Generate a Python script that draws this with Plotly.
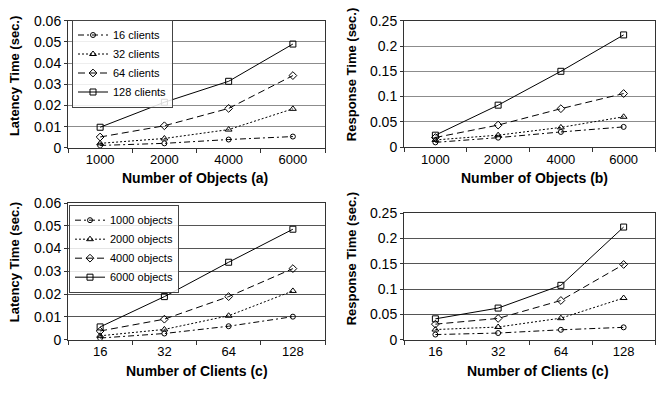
import plotly.graph_objects as go

W, H = 656, 394

# ---- data ----
objects_cats = ["1000", "2000", "4000", "6000"]
clients_cats = ["16", "32", "64", "128"]

client_series = ["16 clients", "32 clients", "64 clients", "128 clients"]
object_series = ["1000 objects", "2000 objects", "4000 objects", "6000 objects"]

# (a) latency vs number of objects, per client count
lat_obj_16 = [0.0011, 0.0021, 0.0039, 0.0053]
lat_obj_32 = [0.0021, 0.0044, 0.0086, 0.0184]
lat_obj_64 = [0.0051, 0.0104, 0.0186, 0.0341]
lat_obj_128 = [0.0097, 0.0215, 0.0314, 0.0490]

# (b) response vs number of objects, per client count
resp_obj_16 = [0.0094, 0.0187, 0.0300, 0.0400]
resp_obj_32 = [0.0142, 0.0236, 0.0390, 0.0600]
resp_obj_64 = [0.0190, 0.0436, 0.0760, 0.1060]
resp_obj_128 = [0.0236, 0.0830, 0.1500, 0.2220]

# (c) latency vs number of clients, per object count
lat_cli_1000 = [0.0007, 0.0027, 0.0059, 0.0101]
lat_cli_2000 = [0.0017, 0.0045, 0.0105, 0.0214]
lat_cli_4000 = [0.0038, 0.0090, 0.0189, 0.0312]
lat_cli_6000 = [0.0056, 0.0189, 0.0340, 0.0485]

# (c) response vs number of clients, per object count
resp_cli_1000 = [0.0101, 0.0131, 0.0195, 0.0244]
resp_cli_2000 = [0.0200, 0.0250, 0.0425, 0.0824]
resp_cli_4000 = [0.0307, 0.0420, 0.0775, 0.1488]
resp_cli_6000 = [0.0412, 0.0625, 0.1075, 0.2228]

dashes = ["6px,3px,2px,3px", "2px,2px", "7px,4px", "solid"]
symbols = ["circle-open", "triangle-up-open", "diamond-open", "square-open"]
msizes = [5, 6, 6, 6]

FONT = "Liberation Sans, Arial, sans-serif"

fig = go.Figure()

panels = [
    ("x", "y", objects_cats, [lat_obj_16, lat_obj_32, lat_obj_64, lat_obj_128], client_series, "legend", True),
    ("x2", "y2", objects_cats, [resp_obj_16, resp_obj_32, resp_obj_64, resp_obj_128], client_series, "legend", False),
    ("x3", "y3", clients_cats, [lat_cli_1000, lat_cli_2000, lat_cli_4000, lat_cli_6000], object_series, "legend2", True),
    ("x4", "y4", clients_cats, [resp_cli_1000, resp_cli_2000, resp_cli_4000, resp_cli_6000], object_series, "legend2", False),
]

for xa, ya, cats, vals, names, leg, show in panels:
    for i, (v, n) in enumerate(zip(vals, names)):
        fig.add_trace(go.Scatter(
            x=cats, y=v, name=n, xaxis=xa, yaxis=ya,
            mode="lines+markers",
            line=dict(color="black", width=1, dash=dashes[i]),
            marker=dict(symbol=symbols[i], size=msizes[i], color="black",
                        line=dict(color="black", width=1)),
            showlegend=show, legend=leg,
        ))

def px_x(p):
    return p / W

def px_y(p):
    return 1 - p / H

xdom_left = [px_x(68), px_x(325)]
xdom_right = [px_x(404), px_x(655)]
ydom_tl = [px_y(145.7), px_y(13.3)]
ydom_tr = [px_y(145.0), px_y(13.3)]
ydom_bl = [px_y(345.7), px_y(203.3)]
ydom_br = [px_y(345.7), px_y(214.0)]

def xaxis(dom, cats, anchor):
    return dict(domain=dom, anchor=anchor, type="category",
                categoryorder="array", categoryarray=cats,
                range=[-0.5, 3.5], tickson="boundaries", ticks="outside",
                ticklen=4, tickcolor="#333", showline=True, linecolor="#333",
                linewidth=1, mirror=True, showgrid=False, zeroline=False,
                tickfont=dict(family=FONT, size=13, color="black"))

def yaxis(dom, rng, dt, anchor, gridcolor):
    return dict(domain=dom, anchor=anchor, range=rng, dtick=dt,
                ticks="outside", ticklen=3, tickcolor="#333",
                showline=True, linecolor="#333", linewidth=1, mirror=True,
                showgrid=True, gridcolor=gridcolor, gridwidth=1,
                zeroline=False,
                tickfont=dict(family=FONT, size=14, color="black"))

legend_common = dict(
    xanchor="left", yanchor="top", bgcolor="rgba(255,255,255,0.85)",
    bordercolor="#444", borderwidth=1,
    font=dict(family=FONT, size=11, color="black"),
    itemwidth=30, tracegroupgap=0,
)

fig.update_layout(
    width=W, height=H, margin=dict(l=0, r=0, t=0, b=0),
    paper_bgcolor="white", plot_bgcolor="white",
    font=dict(family=FONT, color="black"),
    xaxis=xaxis(xdom_left, objects_cats, "y"),
    yaxis=yaxis(ydom_tl, [0, 0.06], 0.01, "x", "#8c8c8c"),
    xaxis2=xaxis(xdom_right, objects_cats, "y2"),
    yaxis2=yaxis(ydom_tr, [0, 0.25], 0.05, "x2", "#8c8c8c"),
    xaxis3=xaxis(xdom_left, clients_cats, "y3"),
    yaxis3=yaxis(ydom_bl, [0, 0.06], 0.01, "x3", "#555555"),
    xaxis4=xaxis(xdom_right, clients_cats, "y4"),
    yaxis4=yaxis(ydom_br, [0, 0.25], 0.05, "x4", "#555555"),
    legend=dict(x=px_x(72), y=px_y(12), **legend_common),
    legend2=dict(x=px_x(69), y=px_y(205), **legend_common),
)

titles = [
    ("Number of Objects (a)", 195, 177.7, 0),
    ("Number of Objects (b)", 534, 177.7, 0),
    ("Number of Clients (c)", 196.5, 378.3, 0),
    ("Number of Clients (c)", 538, 378.3, 0),
    ("Latency Time (sec.)", 14, 71, -90),
    ("Response Time (sec.)", 351, 70, -90),
    ("Latency Time (sec.)", 14, 265, -90),
    ("Response Time (sec.)", 351, 262, -90),
]
for text, xp, yp, ang in titles:
    fig.add_annotation(
        text="<b>%s</b>" % text, x=px_x(xp), y=px_y(yp),
        xref="paper", yref="paper", xanchor="center", yanchor="middle",
        showarrow=False, textangle=ang,
        font=dict(family=FONT, size=14 if ang == 0 else 13, color="black"),
    )

fig.write_html("out.html")
